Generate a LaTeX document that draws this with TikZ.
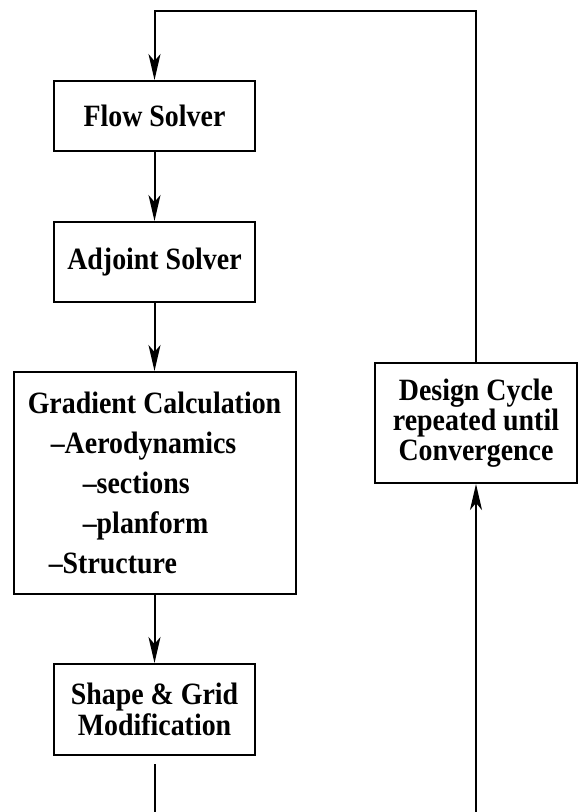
\documentclass[tikz,border=0pt]{standalone}
\usepackage{fontspec}
\setmainfont{Liberation Serif}[FakeStretch=0.9]
\usetikzlibrary{arrows.meta}
\begin{document}
\begin{tikzpicture}[x=1pt,y=-1pt,
  every node/.style={font=\fontsize{31}{30}\selectfont\bfseries},
  stepbox/.style={draw,line width=2pt,inner sep=0pt,align=center},
  link/.style={line width=2pt},
  arr/.style={link,-{Stealth[length=26pt,width=12pt,inset=7pt]}}]
\useasboundingbox (0,0) rectangle (578,812);
% process boxes of the left column
\node[stepbox,minimum width=201pt,minimum height=70pt] (flow) at (154.5,116) {Flow Solver};
\node[stepbox,minimum width=201pt,minimum height=80pt] (adj) at (154.5,262) {Adjoint Solver};
\node[stepbox,minimum width=282pt,minimum height=222pt,align=left,
      font=\fontsize{31}{40}\selectfont\bfseries] (grad) at (154.5,483)
  {Gradient Calculation\\
   \hspace*{23pt}--Aerodynamics\\
   \hspace*{55pt}--sections\\
   \hspace*{55pt}--planform\\
   \hspace*{21pt}--Structure};
\node[stepbox,minimum width=201pt,minimum height=91pt,font=\fontsize{31}{31}\selectfont\bfseries] (shape) at (154.5,709.5) {Shape \& Grid\\Modification};
% loop-back box on the right
\node[stepbox,minimum width=202pt,minimum height=120pt,font=\fontsize{31}{30}\selectfont\bfseries] (design) at (476,423) {Design Cycle\\repeated until\\Convergence};
% connectors
\coordinate (tr) at (476,11);
\coordinate (tl) at (154.5,11);
\coordinate (bl) at (154.5,812);
\coordinate (br) at (476,812);
\coordinate (gapend) at (154.5,764);
\draw[arr] (flow) -- (adj);
\draw[arr] (adj) -- (grad);
\draw[arr] (grad) -- (shape);
\draw[link] (gapend) -- (bl);
\draw[arr] (br) -- (design);
\draw[arr] (design.north) -- (tr) -- (tl) -- (flow.north);
\end{tikzpicture}
\end{document}
